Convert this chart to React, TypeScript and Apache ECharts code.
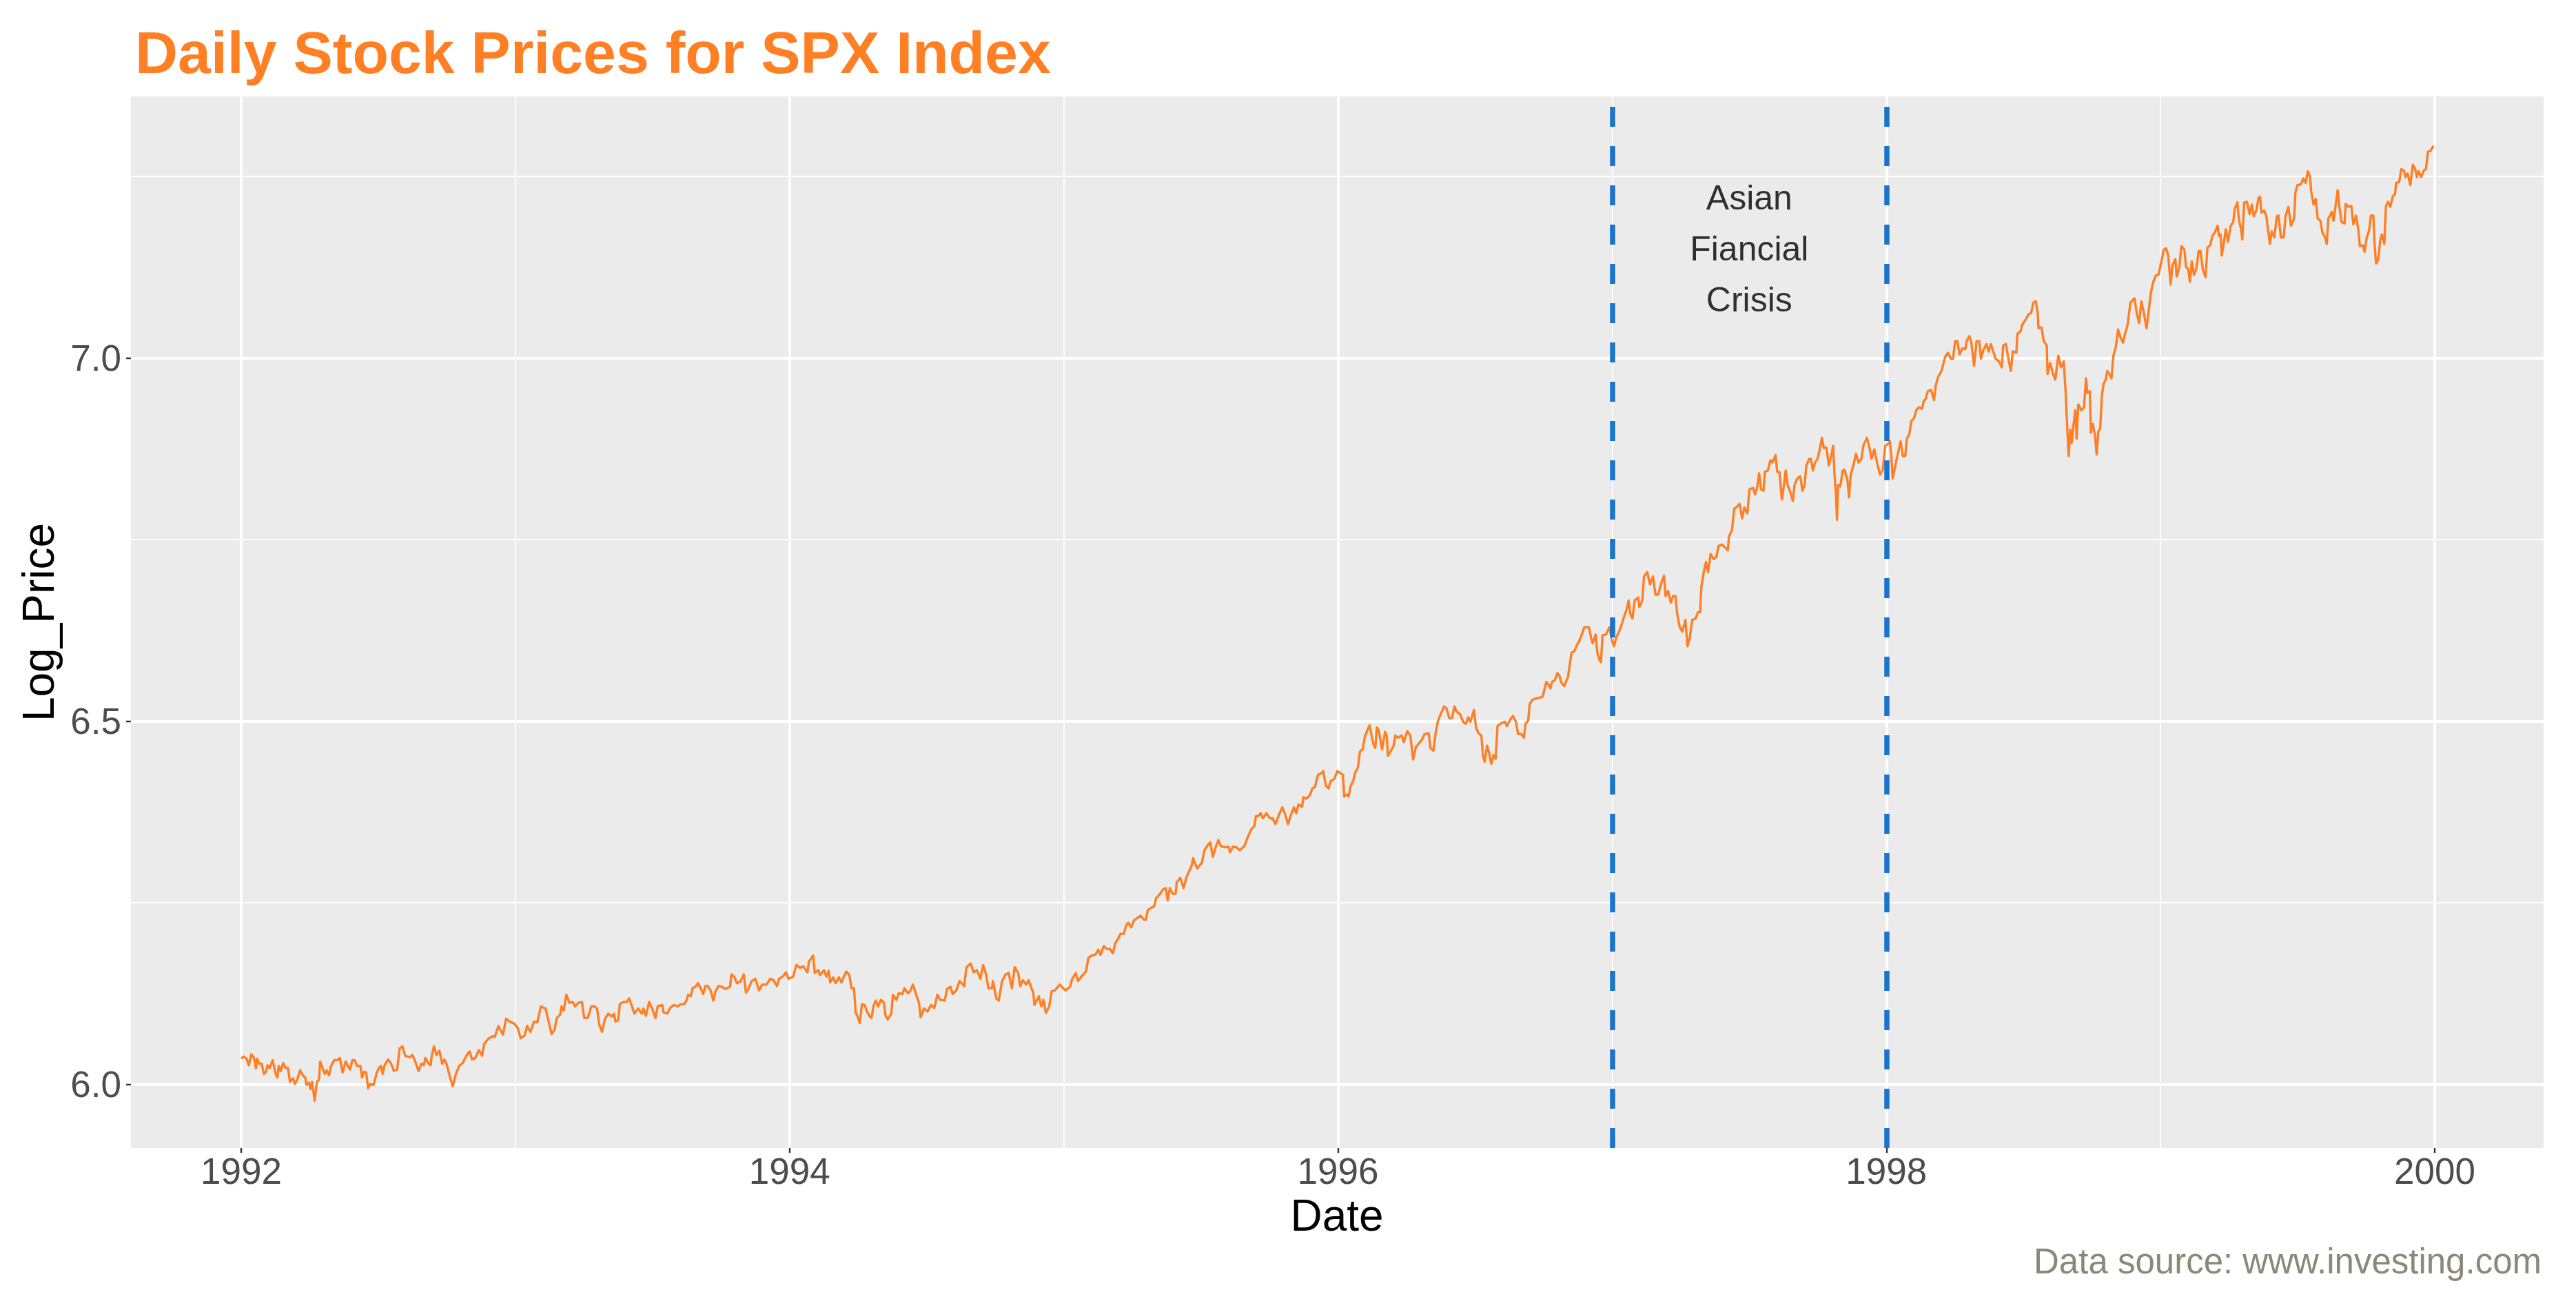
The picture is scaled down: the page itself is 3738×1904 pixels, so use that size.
import React, { useEffect, useRef } from "react";
import * as echarts from "echarts";

const titleText = "Daily Stock Prices for SPX Index";
const xAxisTitle = "Date";
const yAxisTitle = "Log_Price";
const captionText = "Data source: www.investing.com";

const xTickYears = [1992, 1994, 1996, 1998, 2000];
const xMinorYears = [1993, 1995, 1997, 1999];
const yTicks = [6.0, 6.5, 7.0];
const yMinorTicks = [6.25, 6.75, 7.25];
const xRange = [1991.598, 2000.397];
const yRange = [5.912, 7.36];

const crisisBounds = [1997, 1998];
const crisisLabel = ["Asian", "Fiancial", "Crisis"];
const crisisLabelPos = [1997.5, 7.15];

const spx1992 = [
  [1992.000,6.035],[1992.008,6.038],[1992.020,6.035],[1992.028,6.026],[1992.037,6.041],[1992.047,6.036],[1992.054,6.022],[1992.058,6.035],[1992.066,6.028],[1992.075,6.028],[1992.083,6.014],[1992.091,6.017],[1992.096,6.026],[1992.104,6.022],[1992.115,6.033],[1992.125,6.015],[1992.132,6.009],[1992.137,6.025],[1992.144,6.018],[1992.153,6.029],[1992.163,6.022],[1992.171,6.022],[1992.178,6.003],[1992.189,6.008],[1992.196,6.000],[1992.205,6.007],[1992.215,6.019],[1992.225,6.012],[1992.234,6.009],[1992.238,5.999],[1992.248,6.002],[1992.253,5.993],[1992.259,6.003],[1992.268,5.977],[1992.276,6.003],[1992.284,6.006],[1992.288,6.031],[1992.297,6.022],[1992.305,6.014],[1992.312,6.019],[1992.320,6.012],[1992.328,6.025],[1992.339,6.033],[1992.351,6.033],[1992.360,6.036],[1992.370,6.016],[1992.381,6.031],[1992.389,6.025],[1992.397,6.020],[1992.406,6.033],[1992.414,6.033],[1992.422,6.025],[1992.435,6.025],[1992.441,6.009],[1992.448,6.017],[1992.456,6.016],[1992.463,5.994],[1992.471,6.000],[1992.483,5.999],[1992.494,6.015],[1992.502,6.022],[1992.510,6.025],[1992.516,6.014],[1992.523,6.026],[1992.536,6.034],[1992.547,6.028],[1992.557,6.018],[1992.569,6.020],[1992.578,6.049],[1992.588,6.052],[1992.598,6.039],[1992.615,6.037],[1992.624,6.040],[1992.632,6.034],[1992.647,6.018],[1992.657,6.028],[1992.666,6.026],[1992.672,6.036],[1992.682,6.029],[1992.691,6.026],[1992.695,6.039],[1992.703,6.052],[1992.712,6.040],[1992.723,6.046],[1992.733,6.028],[1992.741,6.034],[1992.749,6.028],[1992.762,6.009],[1992.772,5.997],[1992.783,6.014],[1992.795,6.025],[1992.808,6.029],[1992.821,6.039],[1992.833,6.045],[1992.842,6.034],[1992.854,6.036],[1992.867,6.047],[1992.879,6.039],[1992.886,6.055],[1992.900,6.062],[1992.917,6.066],[1992.925,6.065],[1992.938,6.080],[1992.955,6.068],[1992.966,6.090],[1992.980,6.086],[1992.997,6.083],
];

const spx1993 = [
  [1993.009,6.077],[1993.019,6.063],[1993.034,6.067],[1993.043,6.080],[1993.055,6.072],[1993.068,6.086],[1993.080,6.085],[1993.093,6.107],[1993.110,6.104],[1993.122,6.085],[1993.132,6.069],[1993.143,6.075],[1993.151,6.091],[1993.164,6.096],[1993.168,6.107],[1993.176,6.101],[1993.186,6.123],[1993.197,6.112],[1993.210,6.113],[1993.218,6.107],[1993.230,6.112],[1993.243,6.113],[1993.251,6.091],[1993.264,6.091],[1993.277,6.107],[1993.289,6.107],[1993.298,6.104],[1993.306,6.082],[1993.316,6.072],[1993.327,6.090],[1993.339,6.097],[1993.352,6.093],[1993.360,6.097],[1993.365,6.086],[1993.375,6.088],[1993.381,6.110],[1993.394,6.113],[1993.406,6.113],[1993.415,6.118],[1993.427,6.105],[1993.434,6.097],[1993.448,6.104],[1993.461,6.097],[1993.467,6.104],[1993.476,6.094],[1993.488,6.113],[1993.498,6.105],[1993.511,6.091],[1993.519,6.107],[1993.536,6.109],[1993.540,6.099],[1993.554,6.097],[1993.565,6.105],[1993.578,6.109],[1993.592,6.107],[1993.603,6.110],[1993.615,6.110],[1993.624,6.115],[1993.630,6.123],[1993.640,6.121],[1993.646,6.132],[1993.657,6.134],[1993.666,6.139],[1993.676,6.132],[1993.685,6.124],[1993.693,6.135],[1993.702,6.135],[1993.712,6.129],[1993.722,6.115],[1993.730,6.128],[1993.741,6.135],[1993.753,6.134],[1993.766,6.131],[1993.783,6.134],[1993.788,6.151],[1993.798,6.148],[1993.808,6.139],[1993.820,6.141],[1993.833,6.151],[1993.841,6.126],[1993.850,6.131],[1993.862,6.142],[1993.875,6.145],[1993.889,6.129],[1993.900,6.137],[1993.916,6.137],[1993.929,6.145],[1993.942,6.143],[1993.954,6.135],[1993.962,6.145],[1993.975,6.148],[1993.987,6.154],[1993.996,6.145],
];

const spx1994 = [
  [1994.013,6.148],[1994.025,6.164],[1994.038,6.160],[1994.050,6.162],[1994.065,6.154],[1994.071,6.169],[1994.086,6.177],[1994.092,6.153],[1994.105,6.157],[1994.111,6.150],[1994.126,6.157],[1994.134,6.148],[1994.143,6.156],[1994.148,6.140],[1994.159,6.147],[1994.168,6.139],[1994.180,6.147],[1994.189,6.140],[1994.197,6.147],[1994.207,6.155],[1994.218,6.150],[1994.226,6.132],[1994.235,6.132],[1994.241,6.099],[1994.247,6.094],[1994.256,6.084],[1994.264,6.110],[1994.274,6.109],[1994.281,6.101],[1994.291,6.094],[1994.299,6.091],[1994.306,6.107],[1994.314,6.115],[1994.323,6.107],[1994.333,6.116],[1994.344,6.112],[1994.350,6.094],[1994.358,6.089],[1994.371,6.097],[1994.377,6.123],[1994.390,6.116],[1994.398,6.125],[1994.411,6.124],[1994.419,6.132],[1994.432,6.125],[1994.440,6.128],[1994.450,6.137],[1994.461,6.124],[1994.472,6.112],[1994.478,6.092],[1994.490,6.104],[1994.503,6.100],[1994.516,6.109],[1994.528,6.105],[1994.539,6.123],[1994.549,6.116],[1994.566,6.115],[1994.574,6.131],[1994.587,6.134],[1994.595,6.124],[1994.608,6.129],[1994.620,6.142],[1994.637,6.135],[1994.645,6.161],[1994.661,6.166],[1994.671,6.154],[1994.683,6.157],[1994.696,6.145],[1994.706,6.164],[1994.717,6.151],[1994.725,6.132],[1994.738,6.132],[1994.742,6.142],[1994.754,6.118],[1994.763,6.115],[1994.775,6.142],[1994.788,6.151],[1994.799,6.153],[1994.811,6.132],[1994.821,6.161],[1994.834,6.153],[1994.841,6.135],[1994.851,6.143],[1994.863,6.137],[1994.872,6.143],[1994.880,6.134],[1994.889,6.126],[1994.893,6.109],[1994.909,6.121],[1994.918,6.107],[1994.926,6.116],[1994.935,6.098],[1994.947,6.107],[1994.956,6.128],[1994.968,6.129],[1994.985,6.137],
];

const spx1995 = [
  [1995.006,6.129],[1995.023,6.134],[1995.031,6.145],[1995.044,6.153],[1995.052,6.142],[1995.069,6.150],[1995.081,6.155],[1995.090,6.174],[1995.102,6.177],[1995.115,6.178],[1995.126,6.185],[1995.134,6.178],[1995.146,6.190],[1995.157,6.186],[1995.169,6.186],[1995.179,6.180],[1995.188,6.194],[1995.198,6.200],[1995.207,6.207],[1995.219,6.207],[1995.228,6.219],[1995.236,6.222],[1995.246,6.216],[1995.257,6.226],[1995.270,6.229],[1995.280,6.232],[1995.291,6.227],[1995.299,6.226],[1995.307,6.240],[1995.320,6.243],[1995.330,6.245],[1995.337,6.256],[1995.349,6.261],[1995.362,6.268],[1995.372,6.270],[1995.379,6.253],[1995.387,6.270],[1995.397,6.262],[1995.408,6.262],[1995.412,6.278],[1995.425,6.284],[1995.437,6.270],[1995.447,6.284],[1995.458,6.294],[1995.466,6.300],[1995.472,6.311],[1995.481,6.302],[1995.487,6.297],[1995.504,6.305],[1995.513,6.322],[1995.525,6.329],[1995.534,6.333],[1995.544,6.313],[1995.553,6.325],[1995.564,6.336],[1995.573,6.328],[1995.588,6.326],[1995.601,6.327],[1995.606,6.319],[1995.617,6.327],[1995.630,6.326],[1995.642,6.322],[1995.659,6.328],[1995.672,6.341],[1995.684,6.351],[1995.695,6.355],[1995.701,6.369],[1995.709,6.369],[1995.718,6.373],[1995.726,6.366],[1995.739,6.373],[1995.752,6.366],[1995.762,6.366],[1995.772,6.358],[1995.785,6.371],[1995.797,6.381],[1995.806,6.373],[1995.818,6.358],[1995.827,6.369],[1995.839,6.381],[1995.848,6.373],[1995.856,6.385],[1995.869,6.382],[1995.874,6.395],[1995.885,6.393],[1995.898,6.398],[1995.906,6.407],[1995.916,6.409],[1995.927,6.426],[1995.940,6.428],[1995.946,6.431],[1995.956,6.411],[1995.966,6.407],[1995.973,6.417],[1995.986,6.420],[1995.998,6.431],
];

const spx1996 = [
  [1996.018,6.426],[1996.023,6.396],[1996.033,6.399],[1996.039,6.396],[1996.046,6.410],[1996.056,6.418],[1996.063,6.429],[1996.073,6.436],[1996.080,6.458],[1996.090,6.461],[1996.098,6.478],[1996.106,6.486],[1996.115,6.494],[1996.121,6.483],[1996.130,6.467],[1996.136,6.463],[1996.142,6.491],[1996.148,6.488],[1996.161,6.461],[1996.172,6.485],[1996.178,6.480],[1996.182,6.452],[1996.192,6.458],[1996.203,6.466],[1996.209,6.480],[1996.219,6.477],[1996.232,6.480],[1996.240,6.471],[1996.253,6.486],[1996.264,6.480],[1996.274,6.447],[1996.284,6.464],[1996.295,6.469],[1996.307,6.475],[1996.316,6.482],[1996.331,6.483],[1996.337,6.463],[1996.348,6.459],[1996.356,6.483],[1996.364,6.499],[1996.374,6.509],[1996.387,6.520],[1996.395,6.518],[1996.406,6.504],[1996.416,6.504],[1996.425,6.520],[1996.433,6.513],[1996.446,6.509],[1996.456,6.499],[1996.466,6.496],[1996.475,6.505],[1996.483,6.499],[1996.496,6.515],[1996.504,6.490],[1996.513,6.483],[1996.523,6.480],[1996.529,6.452],[1996.535,6.444],[1996.544,6.466],[1996.552,6.455],[1996.559,6.441],[1996.567,6.453],[1996.575,6.448],[1996.582,6.493],[1996.596,6.497],[1996.609,6.499],[1996.616,6.493],[1996.627,6.501],[1996.638,6.507],[1996.649,6.499],[1996.657,6.482],[1996.669,6.482],[1996.678,6.477],[1996.684,6.496],[1996.694,6.501],[1996.699,6.523],[1996.709,6.529],[1996.722,6.531],[1996.736,6.532],[1996.747,6.534],[1996.753,6.543],[1996.760,6.554],[1996.768,6.550],[1996.775,6.545],[1996.781,6.554],[1996.791,6.556],[1996.800,6.566],[1996.808,6.562],[1996.814,6.553],[1996.825,6.548],[1996.839,6.561],[1996.848,6.584],[1996.852,6.594],[1996.862,6.596],[1996.870,6.603],[1996.881,6.611],[1996.892,6.622],[1996.898,6.629],[1996.915,6.629],[1996.923,6.615],[1996.929,6.607],[1996.940,6.619],[1996.946,6.594],[1996.954,6.584],[1996.959,6.581],[1996.965,6.618],[1996.977,6.619],[1996.990,6.629],
];

const spx1997 = [
  [1997.000,6.610],[1997.007,6.603],[1997.015,6.615],[1997.023,6.621],[1997.034,6.632],[1997.043,6.643],[1997.053,6.654],[1997.060,6.666],[1997.066,6.648],[1997.074,6.641],[1997.082,6.666],[1997.095,6.670],[1997.099,6.657],[1997.110,6.666],[1997.116,6.699],[1997.128,6.705],[1997.138,6.688],[1997.149,6.699],[1997.158,6.674],[1997.168,6.674],[1997.179,6.690],[1997.189,6.700],[1997.195,6.672],[1997.204,6.679],[1997.214,6.663],[1997.222,6.672],[1997.231,6.672],[1997.237,6.648],[1997.246,6.630],[1997.256,6.623],[1997.267,6.639],[1997.275,6.603],[1997.283,6.614],[1997.292,6.639],[1997.304,6.641],[1997.313,6.650],[1997.321,6.650],[1997.325,6.684],[1997.334,6.705],[1997.342,6.719],[1997.350,6.705],[1997.359,6.730],[1997.370,6.723],[1997.380,6.726],[1997.388,6.741],[1997.401,6.743],[1997.412,6.739],[1997.422,6.735],[1997.426,6.754],[1997.437,6.763],[1997.445,6.792],[1997.455,6.795],[1997.465,6.799],[1997.474,6.779],[1997.482,6.794],[1997.493,6.786],[1997.501,6.819],[1997.514,6.821],[1997.521,6.812],[1997.529,6.822],[1997.536,6.841],[1997.543,6.819],[1997.552,6.817],[1997.557,6.843],[1997.568,6.845],[1997.577,6.859],[1997.585,6.856],[1997.596,6.866],[1997.602,6.843],[1997.610,6.843],[1997.619,6.805],[1997.627,6.826],[1997.633,6.845],[1997.640,6.825],[1997.648,6.817],[1997.659,6.803],[1997.665,6.825],[1997.675,6.834],[1997.686,6.837],[1997.694,6.817],[1997.702,6.825],[1997.708,6.852],[1997.719,6.861],[1997.725,6.861],[1997.732,6.845],[1997.740,6.856],[1997.749,6.861],[1997.757,6.874],[1997.765,6.890],[1997.772,6.876],[1997.782,6.876],[1997.790,6.852],[1997.799,6.865],[1997.806,6.879],[1997.811,6.839],[1997.816,6.814],[1997.820,6.777],[1997.824,6.825],[1997.832,6.823],[1997.841,6.845],[1997.847,6.846],[1997.858,6.832],[1997.864,6.808],[1997.870,6.839],[1997.881,6.854],[1997.889,6.868],[1997.899,6.856],[1997.909,6.861],[1997.916,6.879],[1997.929,6.890],[1997.937,6.879],[1997.946,6.861],[1997.956,6.874],[1997.966,6.856],[1997.977,6.839],[1997.987,6.846],[1997.996,6.879],
];

const spx1998 = [
  [1998.004,6.881],[1998.013,6.885],[1998.018,6.865],[1998.023,6.834],[1998.032,6.850],[1998.040,6.865],[1998.052,6.885],[1998.060,6.865],[1998.069,6.865],[1998.075,6.889],[1998.084,6.895],[1998.091,6.913],[1998.101,6.917],[1998.109,6.928],[1998.119,6.932],[1998.130,6.930],[1998.136,6.940],[1998.144,6.944],[1998.151,6.954],[1998.163,6.956],[1998.174,6.942],[1998.180,6.962],[1998.189,6.974],[1998.201,6.982],[1998.214,7.001],[1998.225,7.007],[1998.235,6.999],[1998.243,6.999],[1998.251,7.023],[1998.259,7.023],[1998.267,7.005],[1998.277,7.013],[1998.288,7.012],[1998.293,7.023],[1998.303,7.030],[1998.310,7.021],[1998.320,6.989],[1998.329,7.023],[1998.339,7.023],[1998.345,6.999],[1998.354,7.011],[1998.365,7.019],[1998.373,7.009],[1998.381,7.019],[1998.390,7.009],[1998.398,6.999],[1998.411,6.995],[1998.421,6.987],[1998.426,7.017],[1998.436,7.019],[1998.443,7.003],[1998.454,6.982],[1998.461,7.009],[1998.474,7.007],[1998.478,7.033],[1998.490,7.037],[1998.496,7.046],[1998.507,7.052],[1998.518,7.060],[1998.528,7.062],[1998.536,7.076],[1998.545,7.078],[1998.552,7.062],[1998.555,7.041],[1998.566,7.042],[1998.574,7.023],[1998.585,7.017],[1998.588,6.978],[1998.597,6.993],[1998.608,6.978],[1998.616,6.970],[1998.627,7.003],[1998.637,6.987],[1998.647,6.995],[1998.654,6.952],[1998.658,6.917],[1998.665,6.865],[1998.671,6.901],[1998.676,6.883],[1998.683,6.909],[1998.689,6.928],[1998.694,6.889],[1998.700,6.936],[1998.711,6.928],[1998.721,6.932],[1998.728,6.972],[1998.733,6.952],[1998.742,6.954],[1998.746,6.897],[1998.753,6.909],[1998.761,6.893],[1998.767,6.867],[1998.773,6.899],[1998.780,6.903],[1998.786,6.948],[1998.792,6.964],[1998.800,6.970],[1998.806,6.982],[1998.813,6.978],[1998.821,6.972],[1998.828,7.003],[1998.837,7.015],[1998.845,7.039],[1998.853,7.029],[1998.863,7.021],[1998.872,7.035],[1998.880,7.046],[1998.890,7.076],[1998.899,7.080],[1998.905,7.082],[1998.914,7.060],[1998.922,7.048],[1998.930,7.078],[1998.939,7.062],[1998.949,7.041],[1998.956,7.062],[1998.964,7.088],[1998.972,7.103],[1998.982,7.113],[1998.993,7.115],
];

const spx1999 = [
  [1999.012,7.149],[1999.020,7.151],[1999.028,7.141],[1999.037,7.101],[1999.043,7.127],[1999.054,7.136],[1999.059,7.112],[1999.068,7.124],[1999.076,7.154],[1999.087,7.149],[1999.093,7.125],[1999.101,7.122],[1999.107,7.105],[1999.114,7.133],[1999.122,7.114],[1999.131,7.124],[1999.139,7.147],[1999.146,7.147],[1999.154,7.122],[1999.164,7.111],[1999.171,7.152],[1999.181,7.155],[1999.189,7.168],[1999.198,7.173],[1999.208,7.182],[1999.213,7.168],[1999.219,7.170],[1999.223,7.141],[1999.229,7.154],[1999.238,7.177],[1999.246,7.160],[1999.256,7.182],[1999.265,7.187],[1999.271,7.206],[1999.280,7.214],[1999.286,7.190],[1999.294,7.177],[1999.298,7.163],[1999.305,7.214],[1999.315,7.215],[1999.325,7.198],[1999.333,7.211],[1999.340,7.195],[1999.350,7.204],[1999.357,7.220],[1999.363,7.222],[1999.368,7.200],[1999.378,7.203],[1999.386,7.195],[1999.392,7.176],[1999.399,7.157],[1999.405,7.174],[1999.415,7.166],[1999.424,7.195],[1999.430,7.196],[1999.439,7.166],[1999.449,7.166],[1999.456,7.195],[1999.466,7.208],[1999.476,7.182],[1999.487,7.192],[1999.492,7.228],[1999.499,7.238],[1999.512,7.239],[1999.520,7.247],[1999.529,7.241],[1999.537,7.257],[1999.545,7.250],[1999.549,7.230],[1999.558,7.211],[1999.566,7.219],[1999.573,7.192],[1999.583,7.189],[1999.590,7.173],[1999.600,7.166],[1999.606,7.157],[1999.612,7.192],[1999.625,7.201],[1999.631,7.189],[1999.640,7.214],[1999.646,7.231],[1999.652,7.209],[1999.660,7.187],[1999.671,7.185],[1999.675,7.212],[1999.685,7.208],[1999.696,7.209],[1999.703,7.184],[1999.713,7.196],[1999.721,7.177],[1999.727,7.154],[1999.738,7.155],[1999.744,7.146],[1999.752,7.166],[1999.760,7.174],[1999.767,7.196],[1999.776,7.196],[1999.780,7.160],[1999.786,7.130],[1999.794,7.135],[1999.801,7.162],[1999.807,7.170],[1999.816,7.157],[1999.822,7.209],[1999.830,7.215],[1999.838,7.208],[1999.847,7.223],[1999.855,7.225],[1999.859,7.241],[1999.870,7.242],[1999.878,7.260],[1999.888,7.258],[1999.893,7.249],[1999.901,7.254],[1999.911,7.238],[1999.920,7.266],[1999.928,7.261],[1999.935,7.249],[1999.941,7.257],[1999.951,7.249],[1999.960,7.258],[1999.968,7.260],[1999.975,7.284],[1999.985,7.285],[1999.995,7.292],
];

const FONT = "'Liberation Sans', Arial, Helvetica, sans-serif";
const ORANGE = "#FF7F24";

export default function App() {
  const ref = useRef<HTMLDivElement>(null);

  useEffect(() => {
    if (!ref.current) return;
    const chart = echarts.init(ref.current, null, { renderer: "svg" });
    const priceData = [
      ...spx1992, ...spx1993, ...spx1994, ...spx1995,
      ...spx1996, ...spx1997, ...spx1998, ...spx1999,
    ];
    const vLine = (x: number) => ({ coords: [[x, yRange[0]], [x, yRange[1]]] });
    const hLine = (y: number) => ({ coords: [[xRange[0], y], [xRange[1], y]] });

    chart.setOption({
      animation: false,
      backgroundColor: "#FFFFFF",
      textStyle: { fontFamily: FONT },
      grid: {
        left: 190, right: 47, top: 140, bottom: 238,
        show: true, backgroundColor: "#EBEBEB", borderWidth: 0,
      },
      xAxis: {
        type: "value",
        min: xRange[0], max: xRange[1],
        axisLine: { show: false, onZero: false },
        splitLine: { show: false },
        axisTick: {
          show: true, customValues: xTickYears, length: 7,
          lineStyle: { color: "#333333", width: 2.4 },
        },
        axisLabel: {
          customValues: xTickYears, fontSize: 53, color: "#4D4D4D", margin: 7,
          fontFamily: FONT, formatter: (v: number) => String(Math.round(v)),
        },
      },
      yAxis: {
        type: "value",
        min: yRange[0], max: yRange[1],
        axisLine: { show: false, onZero: false },
        splitLine: { show: false },
        axisTick: {
          show: true, customValues: yTicks, length: 7,
          lineStyle: { color: "#333333", width: 2.4 },
        },
        axisLabel: {
          customValues: yTicks, fontSize: 53, color: "#4D4D4D", margin: 14,
          fontFamily: FONT, formatter: (v: number) => v.toFixed(1),
        },
      },
      series: [
        {
          type: "lines", coordinateSystem: "cartesian2d", silent: true, z: 1,
          lineStyle: { color: "#FFFFFF", width: 1.8, opacity: 1 },
          data: [...xMinorYears.map(vLine), ...yMinorTicks.map(hLine)],
        },
        {
          type: "lines", coordinateSystem: "cartesian2d", silent: true, z: 1,
          lineStyle: { color: "#FFFFFF", width: 3.8, opacity: 1 },
          data: [...xTickYears.map(vLine), ...yTicks.map(hLine)],
        },
        {
          type: "line", data: priceData, showSymbol: false, symbol: "none",
          z: 3, silent: true,
          lineStyle: { color: ORANGE, width: 3.4, join: "round" },
        },
        {
          type: "lines", coordinateSystem: "cartesian2d", silent: true, z: 4,
          lineStyle: { color: "#1874CD", width: 7.5, type: [29, 28], opacity: 1 },
          data: crisisBounds.map(vLine),
        },
        {
          type: "scatter", z: 5, silent: true, symbolSize: 1,
          itemStyle: { color: "rgba(0,0,0,0)" },
          data: [crisisLabelPos],
          label: {
            show: true, position: "inside",
            formatter: crisisLabel.join("\n"),
            fontSize: 50, lineHeight: 74, color: "#000000",
            fontFamily: FONT, align: "center",
          },
        },
      ],
      graphic: [
        {
          type: "text", x: 196, y: 76, silent: true,
          style: {
            text: titleText, fontSize: 86, fontWeight: "bold", fill: ORANGE,
            fontFamily: FONT, align: "left", verticalAlign: "middle",
          },
        },
        {
          type: "text", x: 1940, y: 1764, silent: true,
          style: {
            text: xAxisTitle, fontSize: 64, fill: "#000000", fontFamily: FONT,
            align: "center", verticalAlign: "middle",
          },
        },
        {
          type: "text", x: 56, y: 903, rotation: Math.PI / 2, silent: true,
          style: {
            text: yAxisTitle, fontSize: 64, fill: "#000000", fontFamily: FONT,
            align: "center", verticalAlign: "middle",
          },
        },
        {
          type: "text", x: 3688, y: 1830, silent: true,
          style: {
            text: captionText, fontSize: 51, fill: "#8B8878", fontFamily: FONT,
            align: "right", verticalAlign: "middle",
          },
        },
      ],
    });
    return () => chart.dispose();
  }, []);

  return (
    <div
      ref={ref}
      style={{ position: "fixed", left: 0, top: 0, width: 3738, height: 1904, background: "#FFFFFF" }}
    />
  );
}
